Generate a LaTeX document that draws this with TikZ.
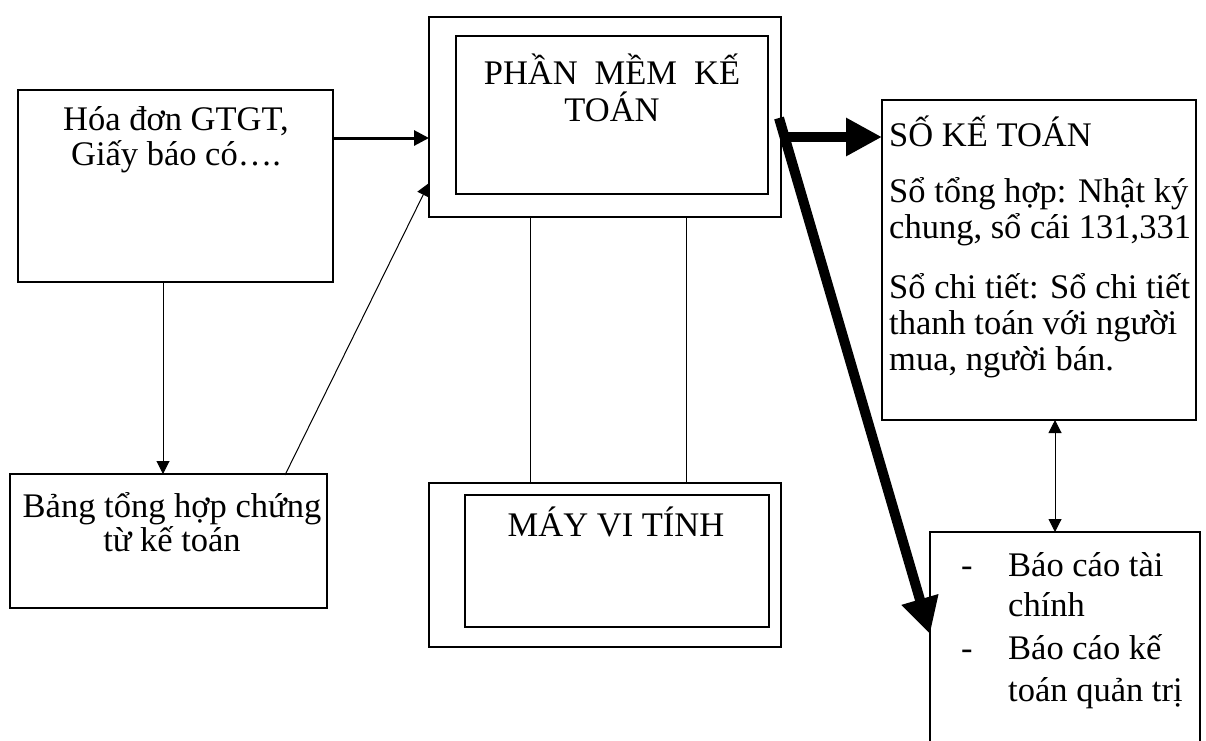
\documentclass[tikz,border=0pt]{standalone}
\usepackage{fontspec}
\setmainfont{Liberation Serif}
\usetikzlibrary{arrows.meta}
\begin{document}
\begin{tikzpicture}[x=1pt,y=-1pt,
  box/.style={draw,line width=1.8pt,inner sep=0pt},
  lbl/.style={inner sep=0pt,font=\fontsize{34.5}{35}\selectfont,align=center,anchor=base},
  lbll/.style={inner sep=0pt,font=\fontsize{34.5}{36}\selectfont,align=left,anchor=base west},
  thin/.style={line width=1pt},
  tip/.style={-{Triangle[length=13pt,width=13pt]}},
  heavy/.style={line width=10pt,-{Triangle[length=36pt,width=36pt]}}]
\useasboundingbox (0,0) rectangle (1206,740);
\clip (0,0) rectangle (1206,740);

% boxes
\node[box,minimum width=315pt,minimum height=192pt] (hd) at (175.5,186) {};
\node[box,minimum width=317pt,minimum height=134pt] (bang) at (168.5,541) {};
\node[box,minimum width=352pt,minimum height=200pt] (pmo) at (605,117) {};
\node[box,minimum width=312pt,minimum height=158pt] (pmi) at (612,115) {};
\node[box,minimum width=352pt,minimum height=164pt] (mvo) at (605,565) {};
\node[box,minimum width=304pt,minimum height=132pt] (mvi) at (617,561) {};
\node[box,minimum width=314pt,minimum height=320pt] (so) at (1039,260) {};
% report box, open at the page foot
\coordinate (bcA) at (930,760);
\coordinate (bcB) at (1200,760);
\draw[line width=1.8pt] (bcA) -- (930,532) coordinate (bcTL) -- (1200,532) coordinate (bcTR) -- (bcB);
\coordinate (bcTop) at (1055,532);

% texts (each node is placed by the baseline of its last line)
\node[lbl] (t1) at (176,165) {Hóa đơn GTGT,\\Giấy báo có….};
\node[lbl,font=\fontsize{34.5}{34}\selectfont] (t2) at (172,551) {Bảng tổng hợp chứng\\từ kế toán};
\node[lbl,font=\fontsize{34.5}{37}\selectfont] (t3) at (612,121) {PHẦN\hspace{17pt}MỀM\hspace{17pt}KẾ\\TOÁN};
\node[lbl] (t4) at (616,536) {MÁY VI TÍNH};
\node[lbll] (s1) at (889,146) {SỐ KẾ TOÁN};
\node[lbll] (s2) at (889,238) {Sổ tổng hợp: Nhật ký\\chung, sổ cái 131,331};
\node[lbll] (s3) at (889,370) {Sổ chi tiết: Sổ chi tiết\\thanh toán với người\\mua, người bán.};
\node[lbll] (d1) at (961,576) {-};
\node[lbll,font=\fontsize{34.5}{40}\selectfont] (b1) at (1008,616) {Báo cáo tài\\chính};
\node[lbll] (d2) at (961,659) {-};
\node[lbll,font=\fontsize{34.5}{42}\selectfont] (b2) at (1008,701) {Báo cáo kế\\toán quản trị};

% connectors
\coordinate (hdR) at (333,138);
\coordinate (pmL) at (429,138);
\draw[line width=3pt,-{Triangle[length=15pt,width=15pt]}] (hdR) -- (pmL);
\coordinate (hdB) at (163,282);
\coordinate (bangT) at (163,474);
\draw[thin,tip] (hdB) -- (bangT);
\coordinate (bangR) at (285,475);
\coordinate (pmL2) at (429,183);
\draw[thin,tip] (bangR) -- (pmL2);
\coordinate (pmB1) at (530,217);
\coordinate (mvT1) at (530,483);
\coordinate (pmB2) at (686,217);
\coordinate (mvT2) at (686,483);
\draw[thin] (pmB1) -- (mvT1);
\draw[thin] (pmB2) -- (mvT2);
\coordinate (soB) at (1055,420);
\draw[thin,{Triangle[length=13pt,width=13pt]}-{Triangle[length=13pt,width=13pt]}] (soB) -- (bcTop);
\coordinate (pmR) at (781,137);
\coordinate (soL) at (882,137);
\draw[heavy] (pmR) -- (soL);
\coordinate (pmR2) at (779,118);
\coordinate (bcL) at (930,634);
\draw[heavy] (pmR2) -- (bcL);
\end{tikzpicture}
\end{document}
